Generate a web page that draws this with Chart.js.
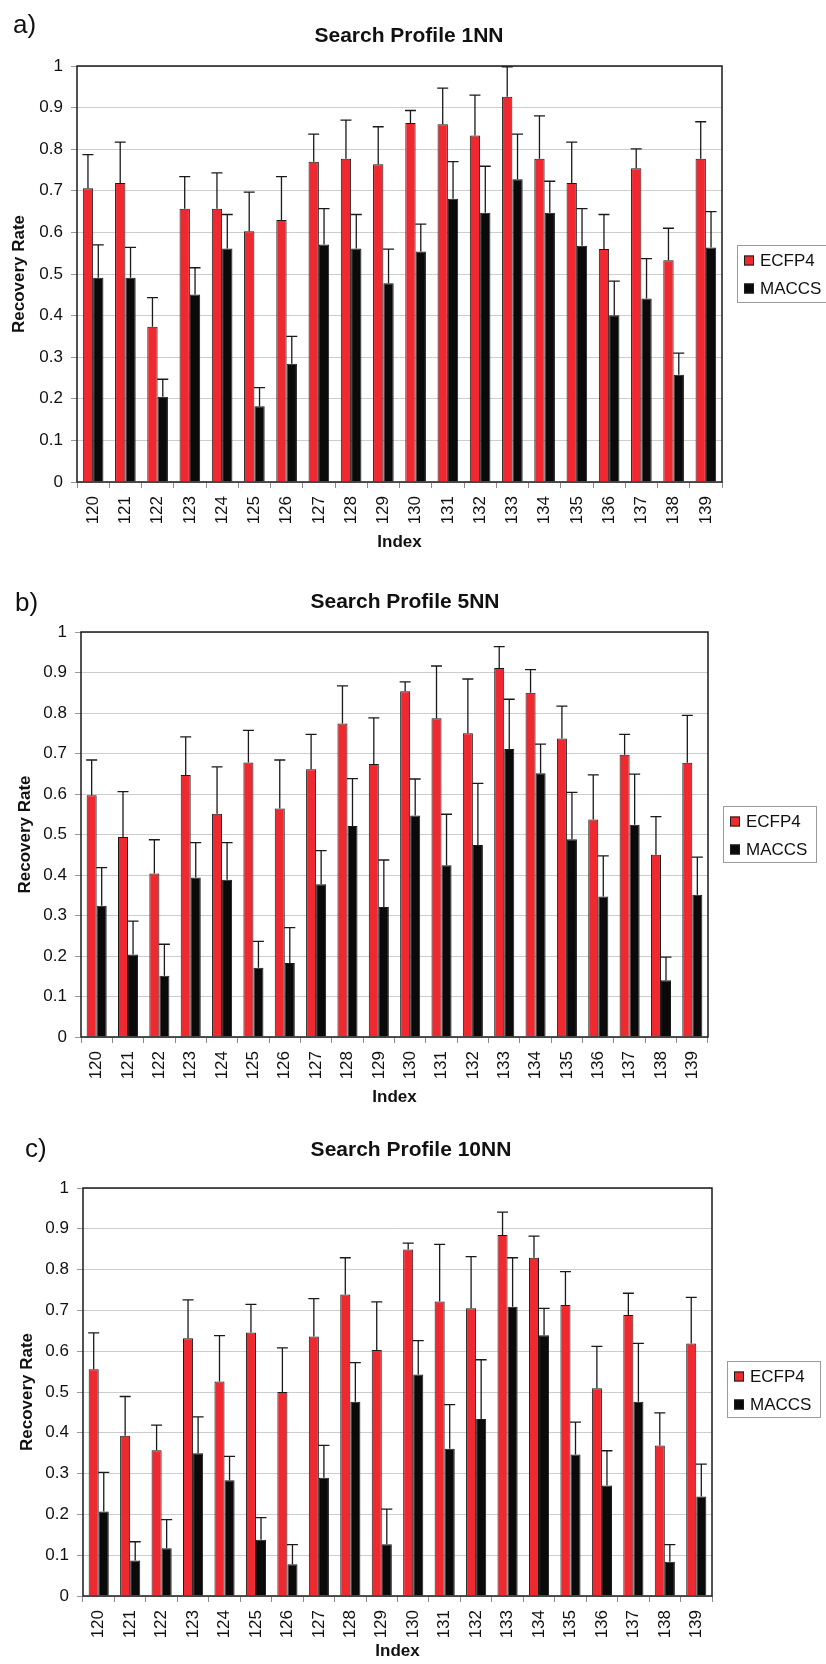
<!DOCTYPE html>
<html>
<head>
<meta charset="utf-8">
<script src="https://cdn.jsdelivr.net/npm/chart.js@4.4.1/dist/chart.umd.min.js"></script>
<style>
  body { margin: 0; background: #fff; }
  canvas.panel { position: absolute; left: 0; }
</style>
</head>
<body>
<canvas id="chartA" class="panel" width="826" height="560" style="top:0px"></canvas>
<canvas id="chartB" class="panel" width="826" height="555" style="top:560px"></canvas>
<canvas id="chartC" class="panel" width="826" height="549" style="top:1115px"></canvas>
<script>
// Activity class indices on the x axis
const indexLabels = ['120', '121', '122', '123', '124', '125', '126', '127', '128', '129',
                     '130', '131', '132', '133', '134', '135', '136', '137', '138', '139'];

// 1NN search profile: recovery rate and top of the error bar
const ecfp1nn      = [0.706, 0.719, 0.373, 0.657, 0.657, 0.603, 0.630, 0.770, 0.777, 0.764, 0.863, 0.860, 0.833, 0.926, 0.777, 0.719, 0.560, 0.754, 0.533, 0.777];
const ecfp1nnUpper = [0.787, 0.817, 0.443, 0.734, 0.743, 0.697, 0.734, 0.836, 0.870, 0.854, 0.893, 0.947, 0.930, 0.998, 0.880, 0.817, 0.643, 0.801, 0.610, 0.866];
const maccs1nn      = [0.491, 0.491, 0.205, 0.451, 0.561, 0.182, 0.284, 0.571, 0.561, 0.478, 0.554, 0.681, 0.647, 0.728, 0.647, 0.568, 0.401, 0.441, 0.258, 0.564];
const maccs1nnUpper = [0.570, 0.564, 0.247, 0.515, 0.643, 0.227, 0.350, 0.657, 0.643, 0.560, 0.620, 0.770, 0.759, 0.836, 0.723, 0.657, 0.483, 0.537, 0.310, 0.650];

// 5NN search profile
const ecfp5nn      = [0.597, 0.494, 0.404, 0.647, 0.551, 0.678, 0.564, 0.661, 0.774, 0.674, 0.854, 0.787, 0.750, 0.911, 0.850, 0.737, 0.537, 0.697, 0.450, 0.677];
const ecfp5nnUpper = [0.684, 0.606, 0.487, 0.741, 0.667, 0.757, 0.684, 0.747, 0.867, 0.788, 0.877, 0.916, 0.884, 0.964, 0.907, 0.817, 0.647, 0.747, 0.544, 0.794];
const maccs5nn      = [0.324, 0.204, 0.151, 0.394, 0.388, 0.171, 0.183, 0.377, 0.521, 0.321, 0.547, 0.424, 0.474, 0.711, 0.651, 0.488, 0.347, 0.524, 0.140, 0.351];
const maccs5nnUpper = [0.418, 0.286, 0.229, 0.480, 0.480, 0.236, 0.270, 0.460, 0.638, 0.437, 0.637, 0.550, 0.626, 0.834, 0.723, 0.604, 0.447, 0.649, 0.197, 0.444];

// 10NN search profile
const ecfp10nn      = [0.556, 0.393, 0.357, 0.632, 0.526, 0.646, 0.500, 0.636, 0.739, 0.603, 0.849, 0.722, 0.705, 0.885, 0.829, 0.713, 0.509, 0.689, 0.369, 0.619];
const ecfp10nnUpper = [0.645, 0.489, 0.419, 0.726, 0.638, 0.715, 0.608, 0.729, 0.829, 0.721, 0.865, 0.862, 0.832, 0.941, 0.882, 0.795, 0.612, 0.742, 0.449, 0.732];
const maccs10nn      = [0.207, 0.087, 0.117, 0.350, 0.284, 0.138, 0.078, 0.290, 0.476, 0.127, 0.543, 0.361, 0.434, 0.709, 0.639, 0.347, 0.271, 0.476, 0.084, 0.244];
const maccs10nnUpper = [0.303, 0.133, 0.187, 0.439, 0.342, 0.192, 0.126, 0.369, 0.572, 0.213, 0.626, 0.469, 0.579, 0.829, 0.705, 0.426, 0.356, 0.619, 0.126, 0.323];

const FONT = "'Liberation Sans', Arial, sans-serif";
const RED = 'rgb(238, 42, 48)';
const BLACK = 'rgb(10, 10, 10)';
const EDGE = '#1a1a1a';

// Draws the panel letter, title, frame, one-sided error bars and the boxed legend
const panelDecor = {
  id: 'panelDecor',
  afterDatasetsDraw(chart, args, opts) {
    const ctx = chart.ctx;
    const y = chart.scales.y;
    ctx.save();
    ctx.strokeStyle = EDGE;
    ctx.lineWidth = 1.3;
    chart.data.datasets.forEach((ds, di) => {
      const meta = chart.getDatasetMeta(di);
      meta.data.forEach((bar, i) => {
        const yTop = y.getPixelForValue(ds.upper[i]);
        ctx.beginPath();
        ctx.moveTo(bar.x, bar.y);
        ctx.lineTo(bar.x, yTop);
        ctx.moveTo(bar.x - 5.5, yTop);
        ctx.lineTo(bar.x + 5.5, yTop);
        ctx.stroke();
      });
    });
    ctx.restore();
  },
  afterDraw(chart, args, opts) {
    const ctx = chart.ctx;
    const a = chart.chartArea;
    ctx.save();
    // plot frame
    ctx.strokeStyle = EDGE;
    ctx.lineWidth = 1.5;
    ctx.strokeRect(a.left, a.top, a.right - a.left, a.bottom - a.top);

    // panel letter
    ctx.fillStyle = '#111';
    ctx.textBaseline = 'alphabetic';
    ctx.textAlign = 'left';
    ctx.font = '26px ' + FONT;
    ctx.fillText(opts.letter, opts.letterX, opts.letterY);

    // title
    ctx.font = 'bold 21px ' + FONT;
    ctx.textAlign = 'center';
    ctx.textBaseline = 'middle';
    ctx.fillText(opts.title, opts.titleX, opts.titleY);

    // legend box
    const lg = opts.legend;
    ctx.strokeStyle = '#9a9a9a';
    ctx.lineWidth = 1;
    ctx.strokeRect(lg.x + 0.5, lg.y + 0.5, lg.w, lg.h);
    ctx.font = '17px ' + FONT;
    ctx.textAlign = 'left';
    chart.data.datasets.forEach((ds, di) => {
      const cy = lg.y + 15.5 + di * 28;
      ctx.fillStyle = ds.backgroundColor;
      ctx.fillRect(lg.x + 7, cy - 5, 10, 10);
      ctx.strokeStyle = EDGE;
      ctx.strokeRect(lg.x + 7.5, cy - 4.5, 9, 9);
      ctx.fillStyle = '#111';
      ctx.fillText(ds.label, lg.x + 23, cy + 1);
    });
    ctx.restore();
  }
};

function makeChart(id, p) {
  const canvas = document.getElementById(id);
  const H = canvas.height;
  return new Chart(canvas, {
    type: 'bar',
    data: {
      labels: indexLabels,
      datasets: [
        { label: 'ECFP4', data: p.ecfp, upper: p.ecfpUpper, backgroundColor: RED,
          borderColor: EDGE, borderWidth: 1 },
        { label: 'MACCS', data: p.maccs, upper: p.maccsUpper, backgroundColor: BLACK,
          borderColor: EDGE, borderWidth: 1 }
      ]
    },
    options: {
      responsive: false,
      animation: false,
      devicePixelRatio: 1,
      categoryPercentage: 0.64,
      barPercentage: 1.0,
      layout: { padding: { left: 0, top: p.area.top, right: 826 - p.area.right, bottom: 0 } },
      plugins: {
        legend: { display: false },
        title: { display: false },
        tooltip: { enabled: false },
        panelDecor: p.decor
      },
      scales: {
        x: {
          grid: { display: true, drawOnChartArea: false, drawTicks: true, tickLength: 6,
                  color: '#8a8a8a', offset: true },
          border: { display: false },
          ticks: { minRotation: 90, maxRotation: 90, padding: 8, color: '#111',
                   font: { family: FONT, size: 17 }, autoSkip: false },
          title: { display: true, text: 'Index', color: '#111', padding: { top: 0, bottom: p.xTitlePad },
                   font: { family: FONT, size: 17, weight: 'bold' } },
          afterFit(scale) { scale.height = H - p.area.bottom; }
        },
        y: {
          min: 0, max: 1,
          grid: { color: '#cdcdcd', lineWidth: 1, tickLength: 6, tickColor: '#9a9a9a' },
          border: { display: false },
          ticks: { stepSize: 0.1, padding: 8, color: '#111',
                   font: { family: FONT, size: 17 },
                   callback: v => String(+v.toFixed(1)) },
          title: { display: true, text: 'Recovery Rate', color: '#111', padding: { top: p.yTitlePad, bottom: 0 },
                   font: { family: FONT, size: 17, weight: 'bold' } },
          afterFit(scale) { scale.width = p.area.left; }
        }
      }
    },
    plugins: [panelDecor]
  });
}

makeChart('chartA', {
  ecfp: ecfp1nn, ecfpUpper: ecfp1nnUpper, maccs: maccs1nn, maccsUpper: maccs1nnUpper,
  area: { left: 77, right: 722, top: 66, bottom: 482 },
  xTitlePad: 7, yTitlePad: 9,
  decor: { letter: 'a)', letterX: 13, letterY: 33, title: 'Search Profile 1NN', titleX: 409, titleY: 36,
           legend: { x: 737, y: 245, w: 93, h: 57 } }
});

makeChart('chartB', {
  ecfp: ecfp5nn, ecfpUpper: ecfp5nnUpper, maccs: maccs5nn, maccsUpper: maccs5nnUpper,
  area: { left: 81, right: 708, top: 72, bottom: 477 },
  xTitlePad: 7, yTitlePad: 15,
  decor: { letter: 'b)', letterX: 15, letterY: 51, title: 'Search Profile 5NN', titleX: 405, titleY: 42,
           legend: { x: 723, y: 246, w: 93, h: 56 } }
});

makeChart('chartC', {
  ecfp: ecfp10nn, ecfpUpper: ecfp10nnUpper, maccs: maccs10nn, maccsUpper: maccs10nnUpper,
  area: { left: 83, right: 712, top: 73, bottom: 481 },
  xTitlePad: 2, yTitlePad: 17,
  decor: { letter: 'c)', letterX: 25, letterY: 42, title: 'Search Profile 10NN', titleX: 411, titleY: 35,
           legend: { x: 727, y: 246, w: 93, h: 56 } }
});
</script>
</body>
</html>
